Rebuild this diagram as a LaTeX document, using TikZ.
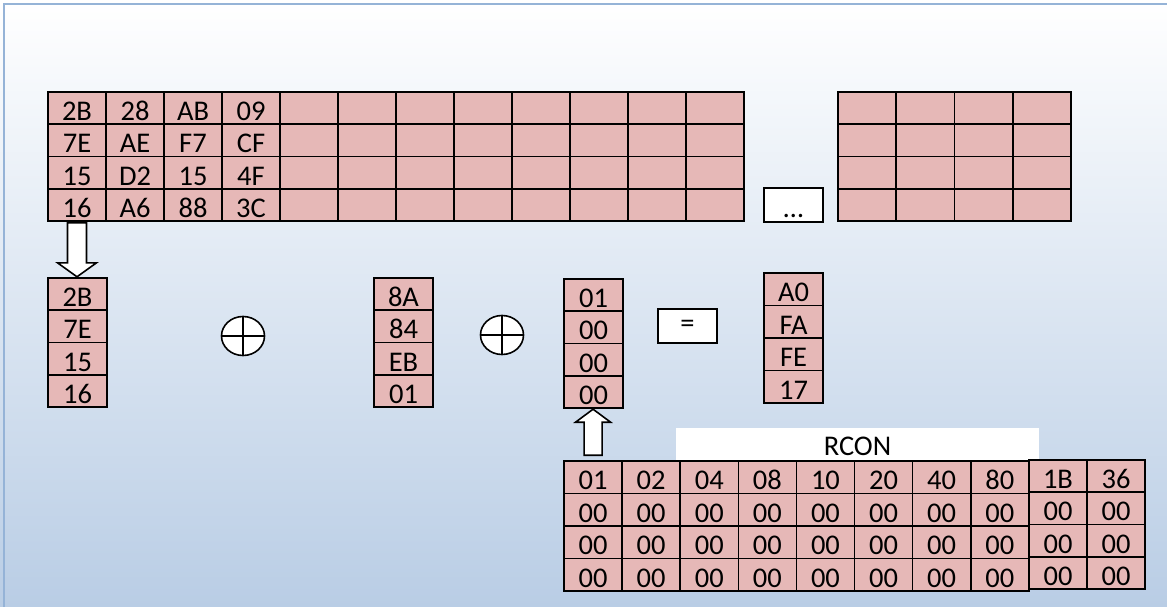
\documentclass[tikz,border=0pt]{standalone}
\usepackage{fontspec}
\setmainfont{Carlito}
\usetikzlibrary{shapes.geometric}
\definecolor{cellred}{HTML}{E6B8B7}
\definecolor{frameblue}{HTML}{95B3D7}
\definecolor{bgblue}{HTML}{B9CDE5}
\newcommand{\cellfont}{\fontsize{28.5}{32}\selectfont}

\begin{document}
\begin{tikzpicture}[x=1pt,y=-1pt,
    cell/.style={draw,line width=1.6pt,fill=cellred,minimum width=58pt,minimum height=32.25pt,
      inner sep=0pt,text height=25pt,text depth=0pt,font=\cellfont},
    box/.style={draw,line width=1.6pt,fill=white,minimum width=59pt,minimum height=34pt,
      inner sep=0pt,font=\cellfont},
    xorop/.style={ellipse,draw,line width=1.6pt,fill=white,minimum width=43pt,minimum height=39pt,inner sep=0pt},
    blockarrow/.style={draw,line width=1.6pt,fill=white,line join=miter}]
    \useasboundingbox (0,0) rectangle (1167,607);
    \shade[top color=white,bottom color=bgblue] (0,0) rectangle (1167,607);
    \draw[frameblue,line width=2.5pt] (4,607) -- (4,4) -- (1167,4);

    % key schedule
    \foreach \r/\a/\b/\c/\d in {1/2B/28/AB/09,2/7E/AE/F7/CF,3/15/D2/15/4F,4/16/A6/88/3C} {
      \foreach \i/\v in {1/\a,2/\b,3/\c,4/\d}
        \node[cell] (k-\r-\i) at ({48+58*(\i-0.5)},{92+32.25*(\r-0.5)}) {\v};
      \foreach \i in {5,...,12}
        \node[cell] (k-\r-\i) at ({48+58*(\i-0.5)},{92+32.25*(\r-0.5)}) {};
      \foreach \i in {1,...,4}
        \node[cell,minimum width=58.25pt] (m-\r-\i) at ({838+58.25*(\i-0.5)},{92+32.25*(\r-0.5)}) {};
    }
    \node[box,text height=25pt,text depth=0pt] (dots) at (793.5,205) {…};

    % columns
    \foreach \v [count=\i] in {2B,7E,15,16}
      \node[cell,minimum width=59pt] (w-\i) at (77.5,{278+32.25*(\i-0.5)}) {\v};
    \foreach \v [count=\i] in {8A,84,EB,01}
      \node[cell,minimum width=59pt] (s-\i) at (403.5,{278+32.25*(\i-0.5)}) {\v};
    \foreach \v [count=\i] in {01,00,00,00}
      \node[cell,minimum width=59pt] (z-\i) at (593.5,{279+32.25*(\i-0.5)}) {\v};
    \foreach \v [count=\i] in {A0,FA,FE,17}
      \node[cell,minimum width=59pt] (y-\i) at (793.5,{273+32.5*(\i-0.5)}) {\v};

    \node[xorop] (x1) at (243,336) {};
    \node[xorop] (x2) at (502,335) {};
    \draw[line width=1.6pt] (x1.north) -- (x1.south) (x1.west) -- (x1.east)
      (x2.north) -- (x2.south) (x2.west) -- (x2.east);
    \node[box] (eq) at (687.5,326) {=};

    % rcon
    \node[fill=white,minimum width=363pt,minimum height=32pt,inner sep=0pt,
      text height=22pt,text depth=0pt,font=\cellfont] (rcon) at (857.5,444) {RCON};
    \foreach \v [count=\i] in {01,02,04,08,10,20,40,80} {
      \node[cell,minimum width=58.1pt,minimum height=32.5pt] (r-1-\i) at ({564+58.1*(\i-0.5)},477.25) {\v};
      \foreach \r in {2,3,4}
        \node[cell,minimum width=58.1pt,minimum height=32.5pt] (r-\r-\i) at ({564+58.1*(\i-0.5)},{461+32.5*(\r-0.5)}) {00};
    }
    \foreach \v [count=\i] in {1B,36} {
      \node[cell] (q-1-\i) at ({1029+58*(\i-0.5)},476.125) {\v};
      \foreach \r in {2,3,4}
        \node[cell] (q-\r-\i) at ({1029+58*(\i-0.5)},{460+32.25*(\r-0.5)}) {00};
    }

    \draw[blockarrow] (k-4-1.south) ++(-9.5,1) -- ++(0,40) -- ++(-10,0) -- ++(19.5,14)
      -- ++(19.5,-14) -- ++(-10,0) -- ++(0,-40) -- cycle;
    \draw[blockarrow] (r-1-1.north) ++(-9,-5) -- ++(0,-33) -- ++(-8.5,0) -- ++(17.5,-13)
      -- ++(17.5,13) -- ++(-8.5,0) -- ++(0,33) -- cycle;
  \end{tikzpicture}
\end{document}
